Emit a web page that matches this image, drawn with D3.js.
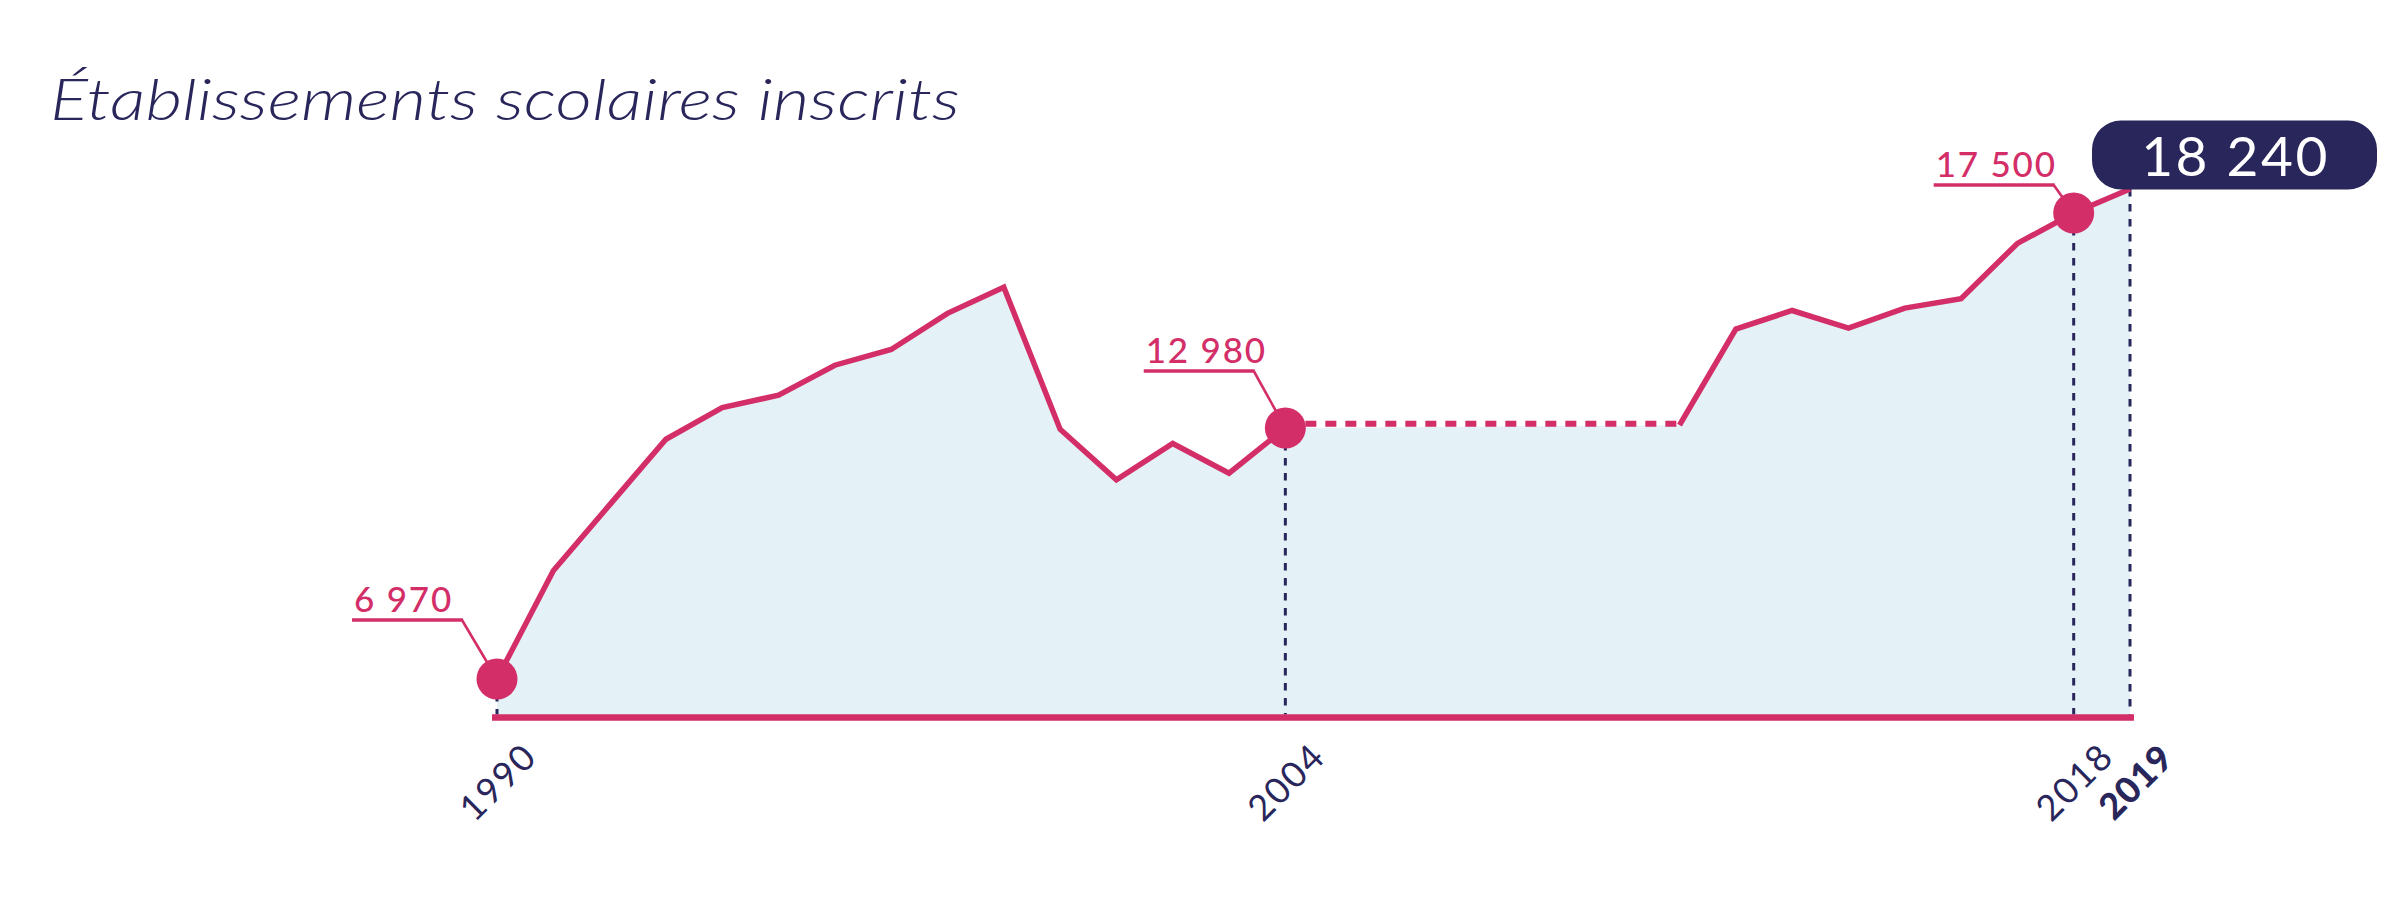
<!DOCTYPE html>
<html><head><meta charset="utf-8">
<script src="https://cdn.jsdelivr.net/npm/d3@7"></script>
<style>body{margin:0;background:#fff}</style>
</head><body><svg id="c" width="2400" height="920"></svg>
<script>
// ---- data ----
const titleText = "Établissements scolaires inscrits";
const years  = [1990,1991,1992,1993,1994,1995,1996,1997,1998,1999,2000,2001,2002,2003,2004,2011,2012,2013,2014,2015,2016,2017,2018,2019];
const values = [6970,9560,11140,12710,13410,13670,14300,14630,15390,15940,12950,11740,12610,11900,12980,13040,15060,15450,15080,15500,15700,16860,17500,18240];
const gapYears = [2004, 2011];
const markedYears  = [1990, 2004, 2018];
const markedLabels = ["6 970", "12 980", "17 500"];
const tickYears  = [1990, 2004, 2018, 2019];
const tickLabels = ["1990", "2004", "2018", "2019"];
const lastLabel = "18 240";
// scale calibration values (the labelled values)
const yCalib = [6970, 12980, 17500, 18240];

// ---- layout / style ----
const PINK = "#d32e68", NAVY = "#29265b", FILL = "#e4f1f7";
const FONT = "Lato, 'Open Sans', sans-serif";
const L = { x0: 497, x1: 2130, base: 717.5, yRange: [679, 428, 213, 189] };
const leaderLayout = [ {dx:-35, dy:-59, len:110}, {dx:-31.6, dy:-57, len:110}, {dx:-20, dy:-28, len:120} ];

const data = years.map((y,i)=>({year:y, value:values[i]}));
const svg = d3.select("#c");
const x = d3.scaleLinear().domain([years[0], years[years.length-1]]).range([L.x0, L.x1]);
const y = d3.scaleLinear().domain(yCalib).range(L.yRange);

// title
svg.append("text").attr("x", 50).attr("y", 120)
  .attr("font-family", FONT).attr("font-style","italic").attr("font-weight",300)
  .attr("font-size", 58).attr("fill", NAVY)
  .attr("textLength", 910).attr("lengthAdjust","spacingAndGlyphs").text(titleText);

// area
const area = d3.area().x(d=>x(d.year)).y0(L.base).y1(d=>y(d.value));
svg.append("path").datum(data).attr("d", area).attr("fill", FILL);

// vertical dashed guides
const guideYears = [...markedYears, years[years.length-1]];
svg.selectAll(".guide").data(guideYears).enter().append("line")
  .attr("x1", d=>x(d)).attr("x2", d=>x(d))
  .attr("y1", d=>y(values[years.indexOf(d)])).attr("y2", L.base-3)
  .attr("stroke", NAVY).attr("stroke-width", 3).attr("stroke-dasharray","7.5,7.5");

// baseline axis
svg.append("line").attr("x1", x(years[0])-5).attr("x2", x(years[years.length-1])+4)
  .attr("y1", L.base).attr("y2", L.base).attr("stroke", PINK).attr("stroke-width", 6.5);

// line segments
const line = d3.line().x(d=>x(d.year)).y(d=>y(d.value));
const seg1 = data.filter(d=>d.year<=gapYears[0]);
const seg2 = data.filter(d=>d.year>=gapYears[1]);
[seg1, seg2].forEach(s=> svg.append("path").datum(s).attr("d", line)
  .attr("fill","none").attr("stroke", PINK).attr("stroke-width", 5.5));
// gap: dotted line held at the level where the series resumes
const resume = data.find(d=>d.year===gapYears[1]);
svg.append("line").attr("x1", x(gapYears[0])).attr("x2", x(gapYears[1]))
  .attr("y1", y(resume.value)-1.5).attr("y2", y(resume.value)-1.5)
  .attr("stroke", PINK).attr("stroke-width", 6).attr("stroke-dasharray","11,9");

// leaders + labels + points
markedYears.forEach((yr,i)=>{
  const px = x(yr), py = y(values[years.indexOf(yr)]);
  const lay = leaderLayout[i];
  const ex = px+lay.dx, ey = py+lay.dy;
  svg.append("line").attr("x1", px).attr("y1", py).attr("x2", ex).attr("y2", ey)
    .attr("stroke", PINK).attr("stroke-width", 2.6);
  svg.append("line").attr("x1", ex-lay.len).attr("x2", ex+1).attr("y1", ey).attr("y2", ey)
    .attr("stroke", PINK).attr("stroke-width", 3.3);
  svg.append("text").attr("x", ex-lay.len+2).attr("y", ey-8.5)
    .attr("font-family", FONT).attr("font-size", 35).attr("letter-spacing", 1.8)
    .attr("font-weight", 500)
    .attr("fill", PINK).text(markedLabels[i]);
  svg.append("circle").attr("cx", px).attr("cy", py).attr("r", 20.5).attr("fill", PINK);
});

// last value box
const lx = x(years[years.length-1]), ly = y(values[values.length-1]);
const bw = 285, bh = 69, bx = lx-38, by = ly-68.5;
svg.append("rect").attr("x", bx).attr("y", by).attr("width", bw).attr("height", bh)
  .attr("rx", 29).attr("fill", NAVY);
svg.append("text").attr("x", bx+bw/2+1).attr("y", by+bh/2).attr("text-anchor","middle")
  .attr("dominant-baseline","central").attr("font-family", FONT).attr("font-size", 55)
  .attr("letter-spacing", 2.5).attr("fill", "#fff").text(lastLabel);

// axis tick labels
tickYears.forEach((yr,i)=>{
  const last = i===tickYears.length-1;
  svg.append("text").attr("transform", `translate(${x(yr)+(last?5:0)},781) rotate(-45)`)
    .attr("text-anchor","middle").attr("dominant-baseline","central")
    .attr("font-family", FONT).attr("font-size", 36).attr("letter-spacing", last?1:2)
    .attr("font-weight", last?900:400).attr("fill", NAVY).text(tickLabels[i]);
});
</script></body></html>
